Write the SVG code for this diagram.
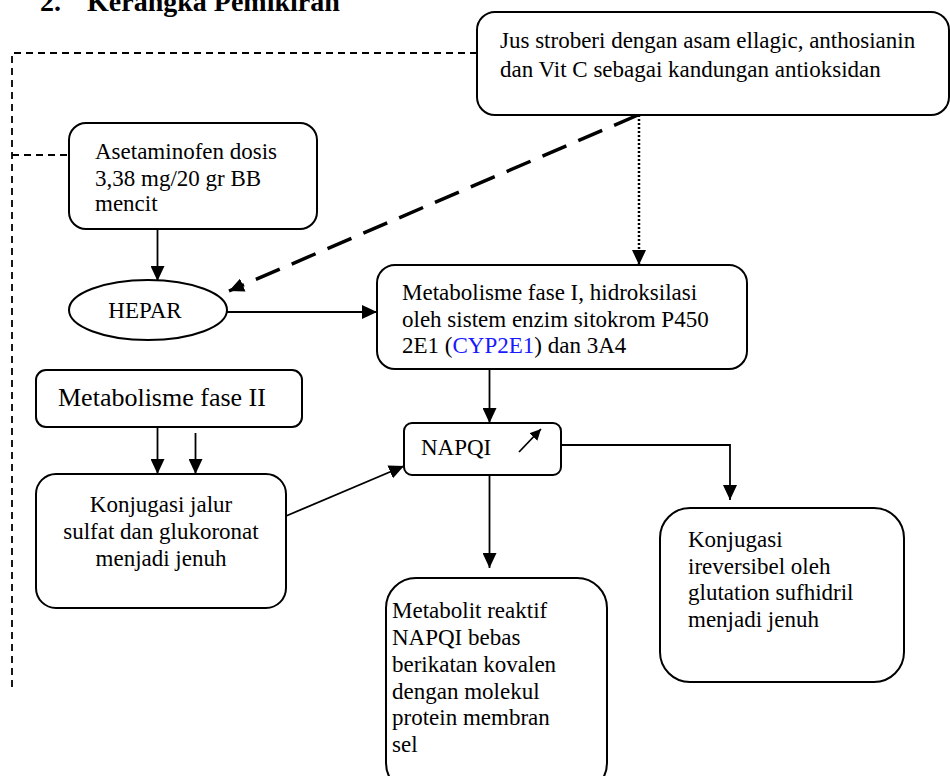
<svg xmlns="http://www.w3.org/2000/svg" width="950" height="776" viewBox="0 0 950 776">
<defs>
<marker id="ah" markerUnits="userSpaceOnUse" markerWidth="16" markerHeight="14" refX="15" refY="7" orient="auto"><path d="M0,0 L15,7 L0,14 z" fill="#000"/></marker>
<marker id="ahs" markerUnits="userSpaceOnUse" markerWidth="12" markerHeight="11" refX="11" refY="5.5" orient="auto"><path d="M0,0 L11,5.5 L0,11 z" fill="#000"/></marker>
<style>
.box{fill:#fff;stroke:#000;stroke-width:2}
.t{font-family:"Liberation Serif","Times New Roman",serif;font-size:23px;fill:#000}
.ln{fill:none;stroke:#000;stroke-width:1.8}
.dash{fill:none;stroke:#000;stroke-width:1.8;stroke-dasharray:7 5}
.title{font-family:"Liberation Serif","Times New Roman",serif;font-size:28px;font-weight:bold;fill:#000}
</style>
</defs>
<g id="title">
<text class="title" x="40" y="11">2.</text>
<text class="title" x="87" y="11">Kerangka Pemikiran</text>
</g>
<g id="connectors">
<polyline class="dash" points="477,53 12,53 12,688"/>
<line class="dash" x1="12" y1="155" x2="69" y2="155"/>
<line x1="638" y1="115" x2="229" y2="291" stroke="#000" stroke-width="3.5" stroke-dasharray="26 13" marker-end="url(#ah)"/>
<line x1="639" y1="115" x2="639" y2="265" stroke="#000" stroke-width="2.5" stroke-dasharray="2 2" marker-end="url(#ah)"/>
<line class="ln" x1="157.5" y1="229" x2="157.5" y2="281" marker-end="url(#ah)"/>
<line class="ln" x1="227" y1="312" x2="377" y2="312" marker-end="url(#ah)"/>
<line class="ln" x1="489.5" y1="369" x2="489.5" y2="423" marker-end="url(#ah)"/>
<line class="ln" x1="157.5" y1="427" x2="157.5" y2="474" marker-end="url(#ah)"/>
<line class="ln" x1="195.5" y1="433" x2="195.5" y2="474" marker-end="url(#ah)"/>
<line class="ln" x1="286" y1="516" x2="404" y2="466" marker-end="url(#ah)"/>
<line class="ln" x1="489.5" y1="475" x2="489.5" y2="568" marker-end="url(#ah)"/>
<polyline class="ln" points="561,445 730,445 730,500" marker-end="url(#ah)"/>
</g>
<g id="jus">
<rect class="box" x="477" y="12" width="472" height="103" rx="18"/>
<text class="t" x="500" y="48">Jus stroberi dengan asam ellagic, anthosianin</text>
<text class="t" x="500" y="77">dan Vit C sebagai kandungan antioksidan</text>
</g>
<g id="asetaminofen">
<rect class="box" x="69" y="123" width="248" height="106" rx="17"/>
<text class="t" x="95" y="159">Asetaminofen dosis</text>
<text class="t" x="95" y="186">3,38 mg/20 gr BB</text>
<text class="t" x="95" y="211">mencit</text>
</g>
<g id="hepar">
<ellipse class="box" cx="148" cy="310" rx="79" ry="30"/>
<text class="t" x="145" y="318" text-anchor="middle">HEPAR</text>
</g>
<g id="fase1">
<rect class="box" x="377" y="265" width="370" height="104" rx="18"/>
<text class="t" x="402" y="300">Metabolisme fase I, hidroksilasi</text>
<text class="t" x="402" y="327">oleh sistem enzim sitokrom P450</text>
<text class="t" x="402" y="353">2E1 (<tspan fill="#1a1aff">CYP2E1</tspan>) dan 3A4</text>
</g>
<g id="fase2">
<rect class="box" x="36" y="370" width="266" height="57" rx="10"/>
<text class="t" x="58" y="406" style="font-size:26px">Metabolisme fase II</text>
</g>
<g id="konjugasi-jalur">
<rect class="box" x="36" y="474" width="250" height="134" rx="20"/>
<text class="t" x="161" y="512" text-anchor="middle">Konjugasi jalur</text>
<text class="t" x="161" y="539" text-anchor="middle">sulfat dan glukoronat</text>
<text class="t" x="161" y="566" text-anchor="middle">menjadi jenuh</text>
</g>
<g id="napqi">
<rect class="box" x="404" y="423" width="157" height="52" rx="8"/>
<text class="t" x="421" y="455">NAPQI</text>
<line class="ln" x1="519" y1="452" x2="541" y2="429" marker-end="url(#ahs)"/>
</g>
<g id="metabolit">
<rect class="box" x="386" y="578" width="221" height="215" rx="30"/>
<text class="t" x="392" y="618">Metabolit reaktif</text>
<text class="t" x="392" y="645">NAPQI bebas</text>
<text class="t" x="392" y="672">berikatan kovalen</text>
<text class="t" x="392" y="699">dengan molekul</text>
<text class="t" x="392" y="725">protein membran</text>
<text class="t" x="392" y="752">sel</text>
</g>
<g id="konjugasi-ireversibel">
<rect class="box" x="660" y="508" width="244" height="174" rx="30"/>
<text class="t" x="688" y="547">Konjugasi</text>
<text class="t" x="688" y="574">ireversibel oleh</text>
<text class="t" x="688" y="600">glutation sufhidril</text>
<text class="t" x="688" y="627">menjadi jenuh</text>
</g>
</svg>
